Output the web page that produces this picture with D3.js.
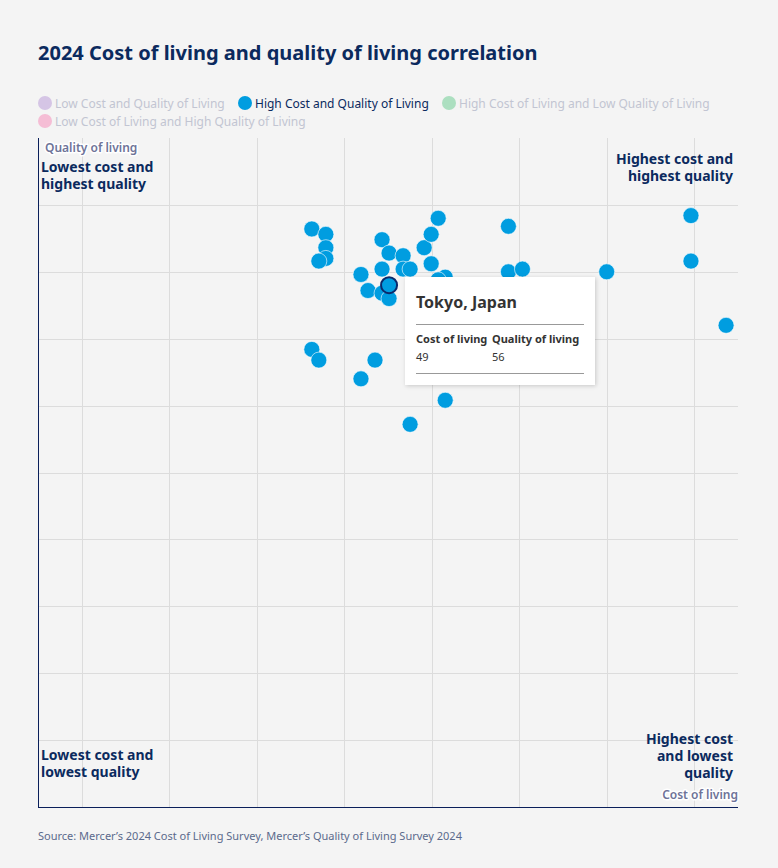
<!DOCTYPE html>
<html>
<head>
<meta charset="utf-8">
<script src="https://cdn.jsdelivr.net/npm/d3@7"></script>
<style>
  html, body { margin: 0; padding: 0; background: #f4f4f4; }
  svg { display: block; font-family: "Noto Sans", sans-serif; }
</style>
</head>
<body>
<div id="chart"></div>
<script>
"use strict";

/* Data: Mercer ranks (1 = most expensive / best quality) */
let costRank =    [60, 58, 58, 58, 59, 50, 49, 47, 44, 43, 42, 32, 53, 50, 47, 46, 43, 41, 42, 32, 30, 18, 52, 50, 49, 60, 59, 51, 53, 41, 46, 6, 6, 1];
let qualityRank = [35, 37, 42, 46, 47, 39, 44, 45, 42, 37, 31, 34, 52, 50, 50, 50, 48, 53, 54, 51, 50, 51, 58, 59, 61, 80, 84, 84, 91, 99, 108, 30, 47, 71];

let hoverCity = "Tokyo, Japan";
let hoverCost = 49;
let hoverQuality = 56;

let legendNames = [
  "Low Cost and Quality of Living",
  "High Cost and Quality of Living",
  "High Cost of Living and Low Quality of Living",
  "Low Cost of Living and High Quality of Living"
];
let legendColors = ["#d5c5e5", "#009de0", "#acdfc0", "#f5bdd5"];
let legendActive = [false, true, false, false];

/* SVG setup */
let svgWidth = 778;
let svgHeight = 868;
let plotLeft = 38;
let plotRight = 738;
let plotTop = 138;
let plotBottom = 807;

let navy = "#0b2a5e";
let pointBlue = "#009de0";

let svg = d3.select("#chart")
  .append("svg")
  .attr("width", svgWidth)
  .attr("height", svgHeight);

svg.append("rect")
  .attr("width", svgWidth)
  .attr("height", svgHeight)
  .attr("fill", "#f4f4f4");

let defs = svg.append("defs");
let shadow = defs.append("filter")
  .attr("id", "shadow")
  .attr("x", "-20%").attr("y", "-20%")
  .attr("width", "140%").attr("height", "140%");
shadow.append("feDropShadow")
  .attr("dx", 1).attr("dy", 1)
  .attr("stdDeviation", 2)
  .attr("flood-color", "#000")
  .attr("flood-opacity", 0.18);

/* Scales (x reversed: most expensive on the right) */
let xScale = d3.scaleLinear().domain([99, -0.7]).range([plotLeft, plotRight]);
let yScale = d3.scaleLinear().domain([1, 251]).range([plotTop, plotBottom]);

// grid is an even quadrant grid, not tied to rank values
let xGrid = d3.scaleLinear().domain([0, 8]).range([plotLeft, plotRight]);
let yGrid = d3.scaleLinear().domain([0, 10]).range([plotTop, plotBottom]);

/* Title */
svg.append("text")
  .attr("x", 38)
  .attr("y", 60)
  .attr("fill", navy)
  .style("font-size", "20px")
  .style("font-weight", "bold")
  .text("2024 Cost of living and quality of living correlation");

/* Legend */
let legendX = [45, 245, 449, 45];
let legendY = [103, 103, 103, 121];
for (let i = 0; i < legendNames.length; i++) {
  svg.append("circle")
    .attr("cx", legendX[i])
    .attr("cy", legendY[i])
    .attr("r", 7)
    .attr("fill", legendColors[i]);
  svg.append("text")
    .attr("x", legendX[i] + 10)
    .attr("y", legendY[i] + 4.5)
    .attr("fill", legendActive[i] ? navy : "#c2c5d2")
    .style("font-size", "12px")
    .text(legendNames[i]);
}

/* Grid */
let gridG = svg.append("g");
for (let i = 0; i < 8; i++) {
  let x = Math.round(xGrid(i + 0.5)) + 0.5;
  gridG.append("line")
    .attr("x1", x).attr("x2", x)
    .attr("y1", plotTop).attr("y2", plotBottom)
    .attr("stroke", "#dcdcdc");
}
for (let i = 1; i < 10; i++) {
  let y = Math.round(yGrid(i)) + 0.5;
  gridG.append("line")
    .attr("x1", plotLeft).attr("x2", plotRight)
    .attr("y1", y).attr("y2", y)
    .attr("stroke", "#dcdcdc");
}

/* Axes */
svg.append("line")
  .attr("x1", plotLeft + 0.5).attr("x2", plotLeft + 0.5)
  .attr("y1", plotTop).attr("y2", plotBottom + 1)
  .attr("stroke", "#0a1f5a");
svg.append("line")
  .attr("x1", plotLeft).attr("x2", plotRight)
  .attr("y1", plotBottom + 0.5).attr("y2", plotBottom + 0.5)
  .attr("stroke", "#0a1f5a");

/* Quadrant labels */
function label(lines, x, y, anchor) {
  for (let i = 0; i < lines.length; i++) {
    svg.append("text")
      .attr("x", x)
      .attr("y", y + i * 17)
      .attr("text-anchor", anchor)
      .attr("fill", navy)
      .style("font-size", "14px")
      .style("font-weight", "bold")
      .text(lines[i]);
  }
}
label(["Lowest cost and", "highest quality"], 41, 172, "start");
label(["Highest cost and", "highest quality"], 733, 164, "end");
label(["Lowest cost and", "lowest quality"], 41, 760, "start");
label(["Highest cost", "and lowest", "quality"], 733, 744, "end");

/* Axis titles with halo */
function axisTitle(txt, x, y, anchor) {
  svg.append("text")
    .attr("x", x)
    .attr("y", y)
    .attr("text-anchor", anchor)
    .attr("fill", "#6e7398")
    .attr("stroke", "#ffffff")
    .attr("stroke-width", 3)
    .attr("stroke-linejoin", "round")
    .style("paint-order", "stroke")
    .style("font-size", "12px")
    .style("font-weight", 600)
    .text(txt);
}
axisTitle("Quality of living", 45, 152, "start");
axisTitle("Cost of living", 738, 799, "end");

/* Points */
let pointsG = svg.append("g");
for (let i = 0; i < costRank.length; i++) {
  pointsG.append("circle")
    .attr("cx", xScale(costRank[i]))
    .attr("cy", yScale(qualityRank[i]))
    .attr("r", 8)
    .attr("fill", pointBlue)
    .attr("stroke", "#ffffff")
    .attr("stroke-opacity", 0.6)
    .attr("stroke-width", 1);
}

// hovered point
pointsG.append("circle")
  .attr("cx", xScale(hoverCost))
  .attr("cy", yScale(hoverQuality))
  .attr("r", 8)
  .attr("fill", pointBlue)
  .attr("stroke", "#0b2a6b")
  .attr("stroke-width", 2);

/* Tooltip */
let tipX = 405;
let tipY = 277;
let tip = svg.append("g").attr("transform", "translate(" + tipX + "," + tipY + ")");
tip.append("rect")
  .attr("width", 190)
  .attr("height", 108)
  .attr("fill", "#ffffff")
  .attr("filter", "url(#shadow)");
tip.append("text")
  .attr("x", 11).attr("y", 31)
  .attr("fill", "#333333")
  .style("font-size", "16px")
  .style("font-weight", "bold")
  .text(hoverCity);
tip.append("line")
  .attr("x1", 11).attr("x2", 179)
  .attr("y1", 47.5).attr("y2", 47.5)
  .attr("stroke", "#999999");
tip.append("text")
  .attr("x", 11).attr("y", 66)
  .attr("fill", "#333333")
  .style("font-size", "11px")
  .style("font-weight", "bold")
  .text("Cost of living");
tip.append("text")
  .attr("x", 87).attr("y", 66)
  .attr("fill", "#333333")
  .style("font-size", "11px")
  .style("font-weight", "bold")
  .text("Quality of living");
tip.append("text")
  .attr("x", 11).attr("y", 84)
  .attr("fill", "#333333")
  .style("font-size", "11px")
  .text(hoverCost);
tip.append("text")
  .attr("x", 87).attr("y", 84)
  .attr("fill", "#333333")
  .style("font-size", "11px")
  .text(hoverQuality);
tip.append("line")
  .attr("x1", 11).attr("x2", 179)
  .attr("y1", 96.5).attr("y2", 96.5)
  .attr("stroke", "#999999");

/* Source */
svg.append("text")
  .attr("x", 38)
  .attr("y", 840)
  .attr("fill", "#5b6a8c")
  .style("font-size", "11px")
  .text("Source: Mercer’s 2024 Cost of Living Survey, Mercer’s Quality of Living Survey 2024");
</script>
</body>
</html>
